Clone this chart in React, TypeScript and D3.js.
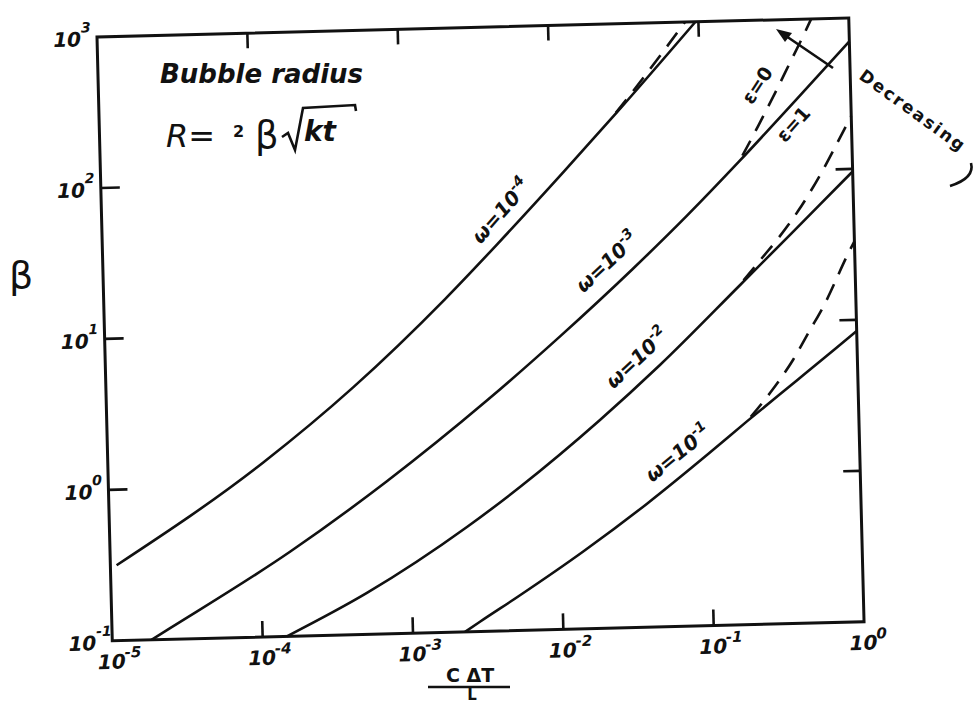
import React from 'react';
import * as d3 from 'd3';

// Axis decades
const xTickValues = [1e-5, 1e-4, 1e-3, 1e-2, 1e-1, 1];
const xTickExponents = ['-5', '-4', '-3', '-2', '-1', '0'];
const yTickValues = [1e-1, 1, 10, 100, 1000];
const yTickExponents = ['-1', '0', '1', '2', '3'];
const innerXTicks = [1e-4, 1e-3, 1e-2, 1e-1];
const innerYTicks = [1, 10, 100];

// Solid curves (ε = 1): Jakob number C·ΔT/L against growth constant β
const jaW4 = [1.1e-5, 1.08e-4, 4.4e-4, 1.86e-3, 4.2e-3, 0.0119, 0.0278, 0.0955];
const betaW4 = [0.316, 1.43, 4.34, 16.1, 36.2, 106, 260, 1000];

const jaW3 = [1.82e-5, 2.45e-5, 1.58e-4, 7.08e-4, 3.39e-3, 0.0107, 0.0331, 0.0776, 0.178, 0.437, 1];
const betaW3 = [0.1, 0.119, 0.364, 1.02, 3.37, 8.75, 23.6, 52.1, 118, 296, 700];

const jaW2 = [1.45e-4, 5.02e-4, 2.38e-3, 5.44e-3, 0.019, 0.0486, 0.171, 0.392, 0.859, 1];
const betaW2 = [0.1, 0.188, 0.494, 0.891, 2.4, 5.42, 17.8, 39.2, 83.2, 96.2];

const jaW1 = [2.22e-3, 2.8e-3, 5.22e-3, 0.0139, 0.0378, 0.1, 0.18, 0.398, 0.713, 1];
const betaW1 = [0.1, 0.116, 0.171, 0.324, 0.658, 1.39, 2.22, 4.11, 6.47, 8.43];

// Dashed branches (ε = 0)
const jaW4e0 = [0.0257, 0.0331, 0.0447, 0.0589, 0.0813];
const betaW4e0 = [240, 324, 468, 661, 1000];

const jaW3e0 = [0.178, 0.24, 0.316, 0.398, 0.501, 0.562];
const betaW3e0 = [118, 200, 331, 513, 794, 1000];

const jaW2e0 = [0.17, 0.234, 0.316, 0.427, 0.603, 0.891, 1];
const betaW2e0 = [17.8, 25.7, 36.3, 53.7, 91.2, 182, 224];

const jaW1e0 = [0.18, 0.259, 0.373, 0.49, 0.603, 0.931, 1];
const betaW1e0 = [2.22, 3.39, 5.56, 8.73, 12.3, 29.1, 33.1];

const solidSeries = [
  [jaW4, betaW4],
  [jaW3, betaW3],
  [jaW2, betaW2],
  [jaW1, betaW1],
];
const dashedSeries = [
  [jaW4e0, betaW4e0],
  [jaW3e0, betaW3e0],
  [jaW2e0, betaW2e0],
  [jaW1e0, betaW1e0],
];

const curveLabels = [
  { exp: '-4', cx: 501, cy: 211, angle: -49 },
  { exp: '-3', cx: 607, cy: 262, angle: -43 },
  { exp: '-2', cx: 637, cy: 358, angle: -43 },
  { exp: '-1', cx: 678, cy: 453, angle: -39 },
];

const FONT = "'DejaVu Sans', sans-serif";

export default function App() {
  const plotW = 752;
  const plotH = 604;
  const x = d3.scaleLog().domain([1e-5, 1]).range([0, plotW]);
  const y = d3.scaleLog().domain([0.1, 1000]).range([plotH, 0]);

  const line = d3
    .line<[number, number]>()
    .x((d) => x(d[0]))
    .y((d) => y(d[1]))
    .curve(d3.curveMonotoneX);

  const toPairs = (xs: number[], ys: number[]) =>
    xs.map((v, i) => [v, ys[i]] as [number, number]);

  const ink = '#111';

  return (
    <svg
      width={979}
      height={704}
      style={{ display: 'block', position: 'absolute', left: 0, top: 0, background: '#fff' }}
    >
      <rect width={979} height={704} fill="#fff" />
      <g transform="translate(97,37) rotate(-1.45)">
        {/* frame */}
        <rect x={0} y={0} width={plotW} height={plotH} fill="none" stroke={ink} strokeWidth={3} />
        {/* inward ticks */}
        {innerXTicks.map((v) => (
          <g key={'xt' + v}>
            <line x1={x(v)} x2={x(v)} y1={plotH} y2={plotH - 16} stroke={ink} strokeWidth={2.6} />
            <line x1={x(v)} x2={x(v)} y1={0} y2={15} stroke={ink} strokeWidth={2.6} />
          </g>
        ))}
        {innerYTicks.map((v) => (
          <g key={'yt' + v}>
            <line x1={0} x2={19} y1={y(v)} y2={y(v)} stroke={ink} strokeWidth={2.6} />
            <line x1={plotW} x2={plotW - 17} y1={y(v)} y2={y(v)} stroke={ink} strokeWidth={2.6} />
          </g>
        ))}
        {/* tick labels */}
        {xTickValues.map((v, i) => (
          <g key={'xl' + v} fontFamily={FONT} fontStyle="italic" fontWeight="bold" fill={ink}>
            <text x={x(v) - 1} y={plotH + 28} fontSize={20} textAnchor="middle">10</text>
            <text x={x(v) + 12} y={plotH + 17} fontSize={15}>{xTickExponents[i]}</text>
          </g>
        ))}
        {yTickValues.map((v, i) => (
          <g key={'yl' + v} fontFamily={FONT} fontStyle="italic" fontWeight="bold" fill={ink}>
            <text x={-16} y={y(v) + 9} fontSize={20} textAnchor="end">10</text>
            <text x={-16} y={y(v) - 5} fontSize={14}>{yTickExponents[i]}</text>
          </g>
        ))}
        {/* curves */}
        {solidSeries.map(([xs, ys], i) => (
          <path key={'s' + i} d={line(toPairs(xs, ys)) || ''} fill="none" stroke={ink} strokeWidth={2.6} />
        ))}
        {dashedSeries.map(([xs, ys], i) => (
          <path
            key={'d' + i}
            d={line(toPairs(xs, ys)) || ''}
            fill="none"
            stroke={ink}
            strokeWidth={2.6}
            strokeDasharray="17 11"
            strokeDashoffset={-6}
          />
        ))}
      </g>

      {/* title and formula */}
      <g fontFamily={FONT} fill={ink}>
        <text x={160} y={83} fontSize={26} fontStyle="italic" fontWeight="bold">Bubble radius</text>
        <text x={166} y={147} fontSize={32} fontStyle="italic">R=</text>
        <text x={233} y={137} fontSize={16} fontWeight="bold">2</text>
        <text x={255} y={148} fontSize={37}>β</text>
        <path d="M282,137 L288,133 L295,150 L303,108 L355,105 L356,111" fill="none" stroke={ink} strokeWidth={2.6} />
        <text x={304} y={141} fontSize={28} fontStyle="italic" fontWeight="bold">kt</text>
      </g>

      {/* axis titles */}
      <text x={9} y={288} fontFamily={FONT} fontSize={38} fill={ink}>β</text>
      <g fontFamily={FONT} fontWeight="bold" fill={ink}>
        <text x={470} y={682} fontSize={19} textAnchor="middle">C ΔT</text>
        <line x1={428} x2={510} y1={687} y2={687} stroke={ink} strokeWidth={2.5} />
        <text x={472} y={700} fontSize={15} textAnchor="middle">L</text>
      </g>

      {/* curve labels */}
      {curveLabels.map((l) => (
        <g key={l.exp} transform={`translate(${l.cx},${l.cy}) rotate(${l.angle})`} fontFamily={FONT} fontWeight="bold" fontStyle="italic" fill={ink}>
          <text x={0} y={7} fontSize={20} textAnchor="middle">
            ω=10<tspan fontSize={14} dy={-9}>{l.exp}</tspan>
          </text>
        </g>
      ))}

      {/* ε labels */}
      <g fontFamily={FONT} fontWeight="bold" fill={ink}>
        <text transform="translate(757,85) rotate(-57)" fontSize={19} textAnchor="middle" y={7}>ε=0</text>
        <text transform="translate(793,124) rotate(-48)" fontSize={19} textAnchor="middle" y={7}>ε=1</text>
      </g>

      {/* decreasing-ε arrow */}
      <line x1={833} y1={68} x2={786} y2={36} stroke={ink} strokeWidth={2.6} />
      <path d="M776,29 L792,33 L785,42 Z" fill={ink} />
      <text
        transform="translate(858,78) rotate(36)"
        fontFamily={FONT}
        fontWeight="bold"
        fontSize={17}
        letterSpacing={2}
        fill={ink}
      >
        Decreasing
      </text>
      <path d="M971,163 Q975,178 950,186" fill="none" stroke={ink} strokeWidth={2.6} />
    </svg>
  );
}
